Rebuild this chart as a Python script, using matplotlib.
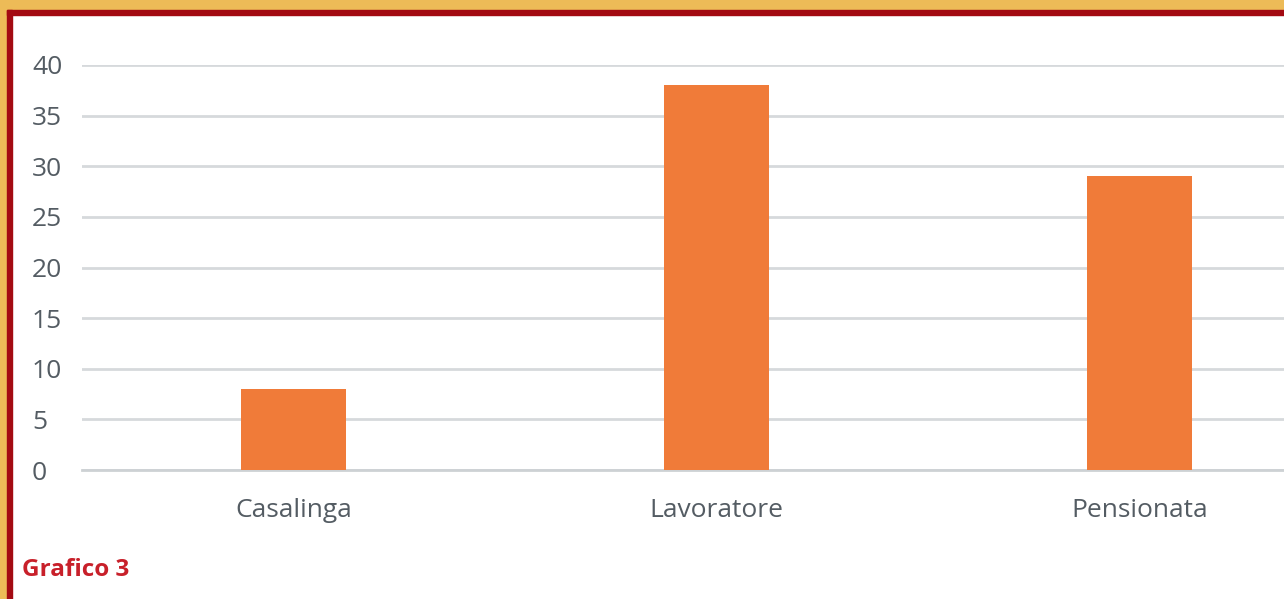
import matplotlib
matplotlib.use("Agg")
import matplotlib.pyplot as plt
from matplotlib.patches import Rectangle

categories = ["Casalinga", "Lavoratore", "Pensionata"]
values = [8, 38, 29]
y_ticks = [0, 5, 10, 15, 20, 25, 30, 35, 40]

W, H = 1284, 599
fig = plt.figure(figsize=(W / 100, H / 100), dpi=100)
fig.patch.set_facecolor("white")

# page frame: gold band with a dark red rule along the top and left
gold, red = "#EDBB57", "#A30A12"
fig.add_artist(Rectangle((0, 1 - 10 / H), 1, 10 / H, transform=fig.transFigure,
                         color=gold, zorder=0))
fig.add_artist(Rectangle((0, 0), 7 / W, 1, transform=fig.transFigure,
                         color=gold, zorder=0))
fig.add_artist(Rectangle((7 / W, 0), 5 / W, 1 - 10 / H, transform=fig.transFigure,
                         color=red, zorder=1))
fig.add_artist(Rectangle((7 / W, 1 - 15 / H), 1, 5 / H, transform=fig.transFigure,
                         color=red, zorder=1))

# axes run past the right edge of the page, so the last gridlines are cut off
x0, x1 = 82, 82 + 3 * 423
y0, y1 = 470, 65
ax = fig.add_axes([x0 / W, 1 - y0 / H, (x1 - x0) / W, (y0 - y1) / H])
ax.set_facecolor("none")

ax.bar(range(len(categories)), values, width=0.25, color="#F07B39", zorder=3)
ax.set_xlim(-0.5, len(categories) - 0.5)
ax.set_ylim(0, 40)
ax.set_yticks(y_ticks)
ax.set_xticks(range(len(categories)))
ax.set_xticklabels(categories)

ax.grid(axis="y", color="#D6D9DC", linewidth=2, zorder=0)
for s in ["top", "right", "left"]:
    ax.spines[s].set_visible(False)
ax.spines["bottom"].set_color("#CDD1D4")
ax.spines["bottom"].set_linewidth(2)

ax.tick_params(axis="both", length=0, colors="#545C63", labelsize=19)
ax.tick_params(axis="y", pad=36)
ax.tick_params(axis="x", pad=20)
for lbl in ax.get_yticklabels() + ax.get_xticklabels():
    lbl.set_family("Open Sans")
for lbl in ax.get_yticklabels():
    lbl.set_horizontalalignment("left")

fig.text(22 / W, 1 - 570 / H, "Grafico 3", color="#C8202A", fontsize=17.5,
         fontweight="bold", family="Open Sans", va="center", ha="left")

fig.savefig("out.png", dpi=100)
